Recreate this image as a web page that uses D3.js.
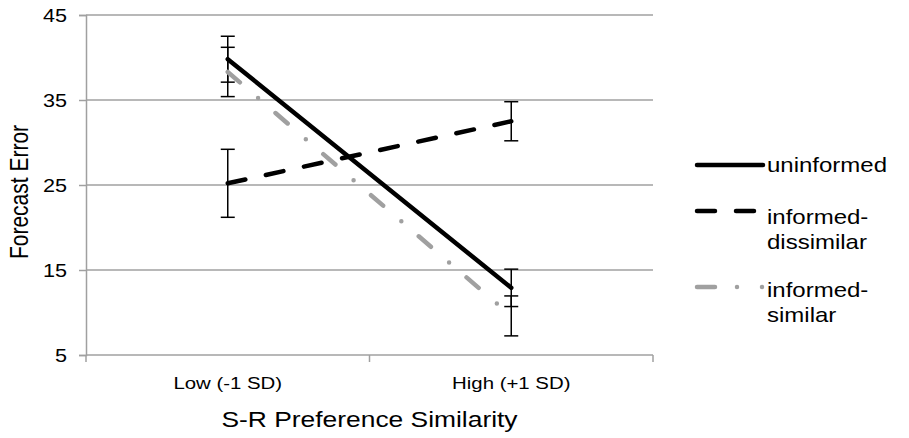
<!DOCTYPE html>
<html>
<head>
<meta charset="utf-8">
<script src="https://cdn.jsdelivr.net/npm/d3@7/dist/d3.min.js"></script>
<style>
  body { margin: 0; background: #fff; }
  svg { display: block; font-family: "Liberation Sans", Arial, sans-serif; }
</style>
</head>
<body>
<div id="chart"></div>
<script>
// ---- data ----
const categories = ["Low (-1 SD)", "High (+1 SD)"];
const yTicks = [5, 15, 25, 35, 45];

const uninformed = [39.8, 12.9];
const uninformedErr = [2.7, 2.2];

const informedDissimilar = [25.2, 32.5];
const informedDissimilarErr = [4.0, 2.3];

const informedSimilar = [38.3, 9.6];
const informedSimilarErr = [2.9, 2.35];

const seriesNames = ["uninformed", "informed-dissimilar", "informed-similar"];

// ---- layout ----
const W = 909, H = 438;
const plot = { left: 86, right: 653, top: 15, bottom: 355 };
const stretch = 1.2; // the reference text is a bit wide

const series = [
    { name: seriesNames[0], values: uninformed, err: uninformedErr,
      color: "#000", dash: null, legDash: null,
      legend: ["uninformed"], ly: 165, ty: 172 },
    { name: seriesNames[1], values: informedDissimilar, err: informedDissimilarErr,
      color: "#000", dash: "18,21", legDash: "18,21",
      legend: ["informed-", "dissimilar"], ly: 211, ty: 224 },
    { name: seriesNames[2], values: informedSimilar, err: informedSimilarErr,
      color: "#a0a0a0", dash: "16,24,0,23", legDash: "18,22,0,25,0,100",
      legend: ["informed-", "similar"], ly: 287, ty: 297 }
];

const svg = d3.select("#chart").append("svg")
    .attr("width", W).attr("height", H);

const x = d3.scaleBand().domain(categories).range([plot.left, plot.right]);
const y = d3.scaleLinear().domain([5, 45]).range([plot.bottom, plot.top]);
const cx = d => x(d) + x.bandwidth() / 2;

// gridlines
svg.append("g").selectAll("line")
    .data(yTicks.filter(t => t > 5))
    .join("line")
    .attr("x1", plot.left).attr("x2", plot.right)
    .attr("y1", d => y(d)).attr("y2", d => y(d))
    .attr("stroke", "#a0a0a0").attr("stroke-width", 1.5);

// y axis
const yAxis = svg.append("g")
    .attr("transform", `translate(${plot.left},0)`)
    .call(d3.axisLeft(y).tickValues(yTicks).tickSize(7));
yAxis.select(".domain").attr("stroke", "#a0a0a0").attr("stroke-width", 1.5);
yAxis.selectAll(".tick line").attr("stroke", "#a0a0a0").attr("stroke-width", 1.5);
yAxis.selectAll(".tick text")
    .attr("x", null).attr("dy", null)
    .attr("transform", "translate(-19,6) scale(" + stretch + ",1)")
    .attr("font-size", 18).attr("fill", "#000")
    .attr("font-family", "Liberation Sans, Arial, sans-serif");

// x axis: ticks at category boundaries
const xg = svg.append("g").attr("transform", `translate(0,${plot.bottom})`);
xg.append("line")
    .attr("x1", plot.left).attr("x2", plot.right)
    .attr("stroke", "#a0a0a0").attr("stroke-width", 1.5);
const bounds = [plot.left, ...categories.map(c => x(c) + x.bandwidth())];
xg.selectAll(".bt").data(bounds).join("line")
    .attr("class", "bt")
    .attr("x1", d => d).attr("x2", d => d)
    .attr("y1", 0).attr("y2", 7)
    .attr("stroke", "#a0a0a0").attr("stroke-width", 1.5);
xg.selectAll("text").data(categories).join("text")
    .attr("transform", d => `translate(${cx(d)},34) scale(${stretch},1)`)
    .attr("text-anchor", "middle")
    .attr("font-size", 17)
    .text(d => d);

// axis titles
svg.append("text")
    .attr("transform", `translate(28,192) scale(${stretch},1) rotate(-90)`)
    .attr("text-anchor", "middle")
    .attr("font-size", 21)
    .text("Forecast Error");
svg.append("text")
    .attr("transform", `translate(${(plot.left + plot.right) / 2},427) scale(${stretch},1)`)
    .attr("text-anchor", "middle")
    .attr("font-size", 22)
    .text("S-R Preference Similarity");

// error bars
const eb = svg.append("g");
series.forEach(s => {
    categories.forEach((c, i) => {
        const px = cx(c), hi = y(s.values[i] + s.err[i]), lo = y(s.values[i] - s.err[i]);
        eb.append("line").attr("x1", px).attr("x2", px).attr("y1", hi).attr("y2", lo)
            .attr("stroke", "#000").attr("stroke-width", 1.5);
        [hi, lo].forEach(yy => eb.append("line")
            .attr("x1", px - 7).attr("x2", px + 7).attr("y1", yy).attr("y2", yy)
            .attr("stroke", "#000").attr("stroke-width", 1.5));
    });
});

// series lines (back to front: similar, dissimilar, uninformed)
const line = d3.line().x((d, i) => cx(categories[i])).y(d => y(d));
[series[2], series[1], series[0]].forEach(s => {
    svg.append("path")
        .datum(s.values)
        .attr("d", line)
        .attr("fill", "none")
        .attr("stroke", s.color)
        .attr("stroke-width", 4.5)
        .attr("stroke-linecap", "round")
        .attr("stroke-dasharray", s.dash);
});

// legend
const lg = svg.append("g");
series.forEach(s => {
    lg.append("line")
        .attr("x1", 697).attr("x2", 763)
        .attr("y1", s.ly).attr("y2", s.ly)
        .attr("stroke", s.color).attr("stroke-width", 4.5)
        .attr("stroke-linecap", "round")
        .attr("stroke-dasharray", s.legDash);
    s.legend.forEach((txt, k) => {
        lg.append("text")
            .attr("transform", `translate(767,${s.ty + k * 25}) scale(${stretch},1)`)
            .attr("font-size", 20)
            .text(txt);
    });
});
</script>
</body>
</html>
